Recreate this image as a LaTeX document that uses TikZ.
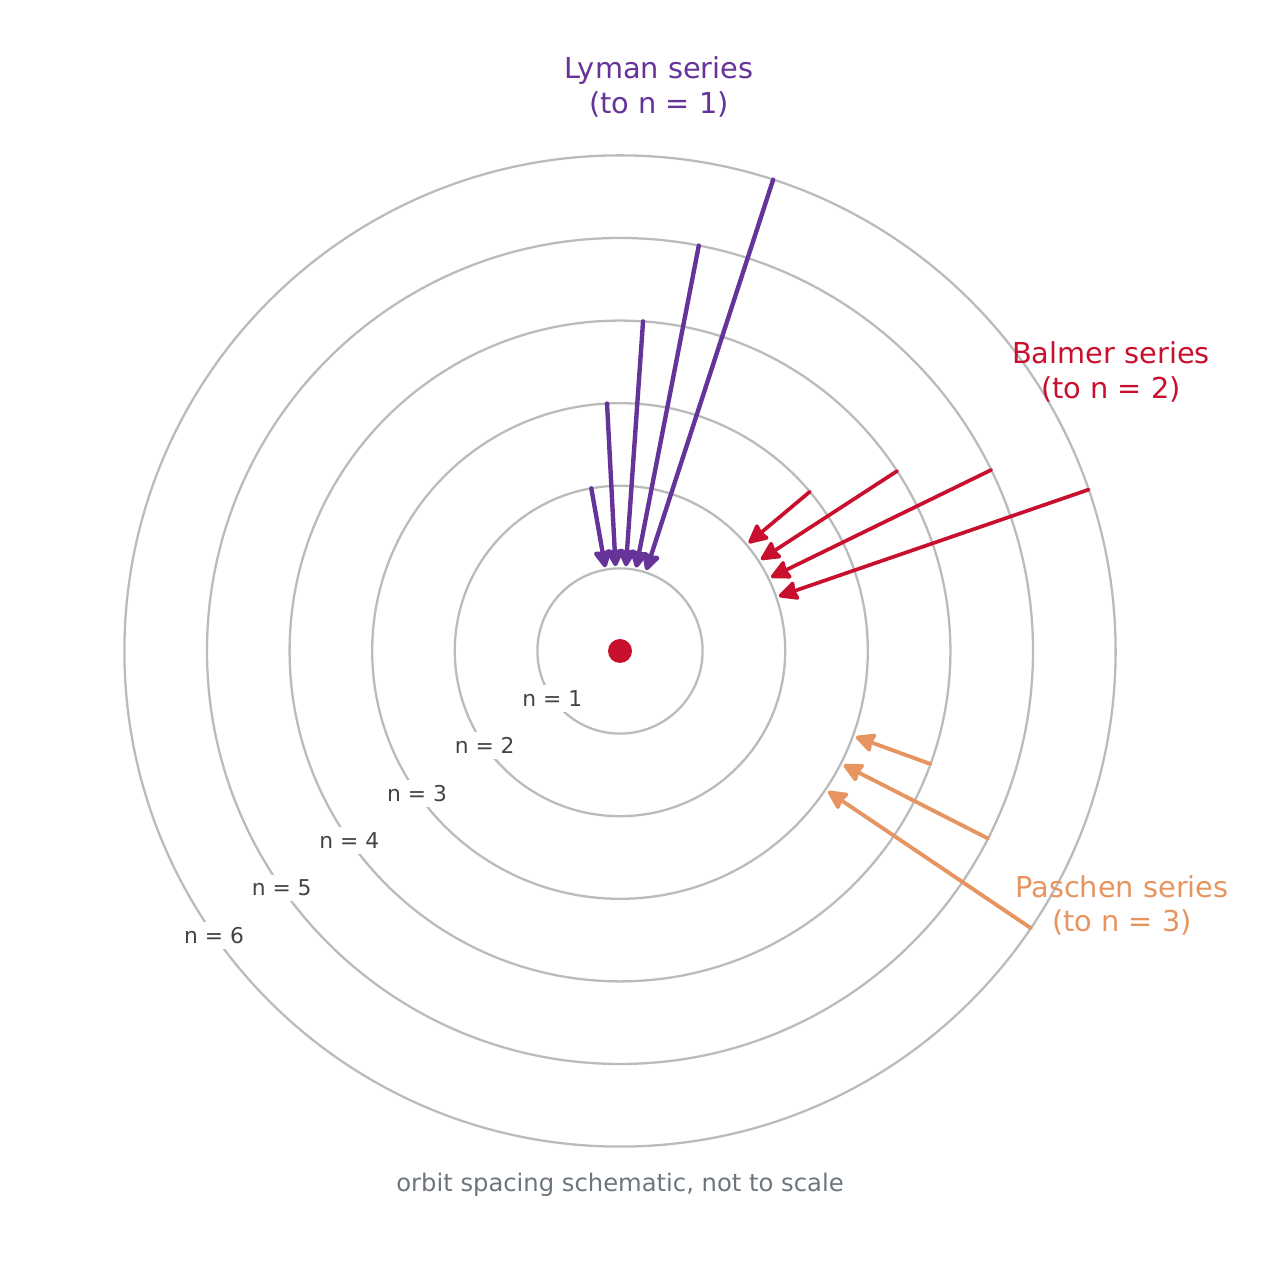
\documentclass[tikz,border=0pt]{standalone}
\usepackage{fontspec}
\setmainfont{DejaVu Sans}
\usepackage{tikz}
\usetikzlibrary{arrows.meta}
\definecolor{lymanc}{HTML}{663399}
\definecolor{balmerc}{HTML}{C8102E}
\definecolor{paschenc}{HTML}{E69560}
\definecolor{orbitc}{HTML}{BBBBBB}
\definecolor{textc}{HTML}{444444}
\definecolor{notec}{HTML}{6C757D}
\tikzset{
  every picture/.style={line join=round, line cap=round, >=Stealth},
  orbit/.style={draw=orbitc, line width=0.65pt},
  nlabel/.style={fill=white, text=textc, inner sep=1.5pt, font=\fontsize{6.2}{7.4}\selectfont},
  series/.style={align=center, font=\fontsize{8.2}{9.7}\selectfont},
  lyman/.style={draw=lymanc, line width=1.25pt, -{Stealth[length=5.8pt,width=5.8pt,inset=0.6pt,round]}},
  balmer/.style={draw=balmerc, line width=1.05pt, -{Stealth[length=6.2pt,width=6pt,inset=0.6pt,round]}},
  paschen/.style={draw=paschenc, line width=1.1pt, -{Stealth[length=6.2pt,width=6pt,inset=0.6pt,round]}},
}

\begin{document}
\begin{tikzpicture}
\useasboundingbox (-6.20,-6.29) rectangle (6.60,6.51);
% orbits
\foreach \n in {1,...,6}
  \draw[orbit] (0,0) circle ({\n*0.826});
\fill[balmerc] (0,0) circle (0.12);
\foreach \n in {1,...,6}
  \node[nlabel] (lab\n) at (215:{\n*0.826}) {n = \n};
% Lyman
\foreach \n/\a in {2/100,3/93,4/86,5/79,6/72}{
  \coordinate (ly\n) at (\a:{\n*0.826});
  \coordinate (lyend\n) at (\a:0.85);
  \draw[lyman] (ly\n) -- (lyend\n);
}
% Balmer
\foreach \n/\a in {3/40,4/33,5/26,6/19}{
  \coordinate (ba\n) at (\a:{\n*0.826});
  \coordinate (baend\n) at (\a:1.68);
  \draw[balmer] (ba\n) -- (baend\n);
}
% Paschen
\foreach \n/\a in {4/-20,5/-27,6/-34}{
  \coordinate (pa\n) at (\a:{\n*0.826});
  \coordinate (paend\n) at (\a:2.51);
  \draw[paschen] (pa\n) -- (paend\n);
}
\node[series, text=lymanc] (lyman) at (0.39,5.64) {Lyman series\\(to n = 1)};
\node[series, text=balmerc] (balmer) at (4.91,2.79) {Balmer series\\(to n = 2)};
\node[series, text=paschenc] (paschen) at (5.02,-2.54) {Paschen series\\(to n = 3)};
\node[text=notec, font=\fontsize{6.9}{8}\selectfont] (note) at (0,-5.34) {orbit spacing schematic, not to scale};
\end{tikzpicture}
\end{document}
